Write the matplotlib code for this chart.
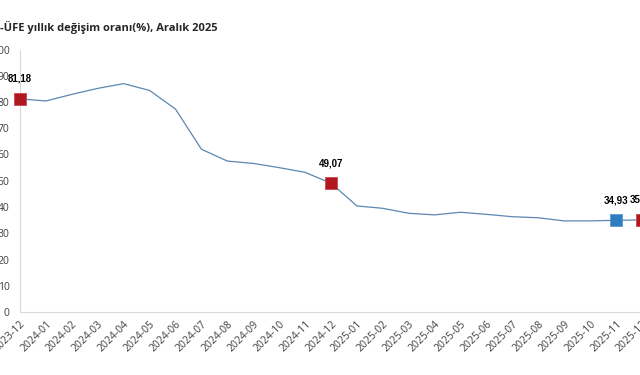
import matplotlib
matplotlib.use('Agg')
import matplotlib.pyplot as plt

plt.rcParams['font.family'] = ['Open Sans', 'DejaVu Sans']

# aylar ve yıllık değişim (%)
months = ['2023-12', '2024-01', '2024-02', '2024-03', '2024-04', '2024-05',
          '2024-06', '2024-07', '2024-08', '2024-09', '2024-10', '2024-11',
          '2024-12', '2025-01', '2025-02', '2025-03', '2025-04', '2025-05',
          '2025-06', '2025-07', '2025-08', '2025-09', '2025-10', '2025-11',
          '2025-12']
values = [81.18, 80.4, 82.9, 85.2, 87.0, 84.4, 77.3, 62.0, 57.5, 56.6, 55.0,
          53.2, 49.07, 40.4, 39.5, 37.6, 37.0, 38.0, 37.2, 36.3, 35.9, 34.7,
          34.7, 34.93, 35.07]
red_idx = [0, 12, 24]
blue_idx = [23]
yticks = [0, 10, 20, 30, 40, 50, 60, 70, 80, 90, 100]

LINE = '#5b87b0'
RED = '#b01820'
BLUE = '#2f7dc0'
GRAY = '#404040'

fig = plt.figure(figsize=(6.4, 3.75), dpi=100)
ax = fig.add_axes([20 / 640, 63 / 375, 622 / 640, 262.5 / 375])

x = list(range(len(months)))
ax.plot(x, values, color=LINE, linewidth=0.9, zorder=2, clip_on=False)
for i in red_idx:
    ax.plot(x[i], values[i], 's', color=RED, markersize=8,
            markeredgecolor='#c8484e', markeredgewidth=0.6, zorder=3, clip_on=False)
for i in blue_idx:
    ax.plot(x[i], values[i], 's', color=BLUE, markersize=8,
            markeredgecolor='#5a9ad0', markeredgewidth=0.6, zorder=3, clip_on=False)
# değer etiketleri, işaretin ~20 px üstünde
for i in red_idx + blue_idx:
    ax.annotate(f'{values[i]:.2f}'.replace('.', ','), (x[i], values[i]),
                xytext=(0, 20), textcoords='offset pixels',
                ha='center', va='center', fontsize=7, fontweight='bold',
                family=['Liberation Sans', 'DejaVu Sans'], color='black',
                annotation_clip=False)

ax.set_xlim(0, len(months) - 1)
ax.set_ylim(0, 100)
ax.set_yticks(yticks)
ax.set_yticklabels([str(v) for v in yticks], fontsize=7.5, color=GRAY)
ax.set_xticks(x)
ax.set_xticklabels(months, rotation=45, ha='right', rotation_mode='anchor',
                   fontsize=7.5, color=GRAY)
ax.tick_params(axis='both', length=0)
ax.tick_params(axis='y', pad=7.5)
ax.tick_params(axis='x', pad=5)

for s in ('top', 'right'):
    ax.spines[s].set_visible(False)
for s in ('left', 'bottom'):
    ax.spines[s].set_color('#d9d9d9')
    ax.spines[s].set_linewidth(0.8)

fig.text(0, 1 - 27 / 375, '-ÜFE yıllık değişim oranı(%), Aralık 2025',
         ha='left', va='center', fontsize=8, fontweight='bold', color='#262626')

fig.savefig('out.png', dpi=100)
